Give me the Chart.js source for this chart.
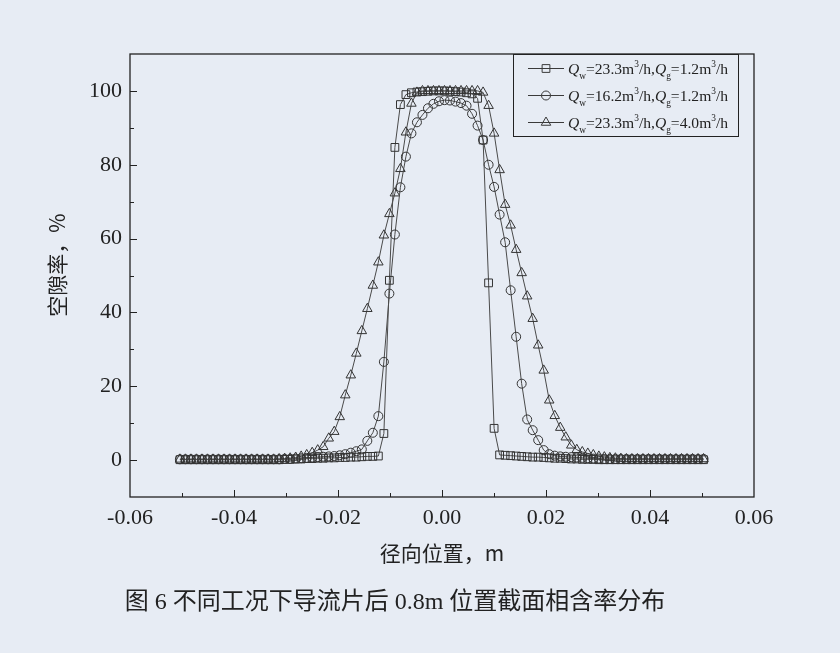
<!DOCTYPE html>
<html lang="zh-CN">
<head>
<meta charset="UTF-8">
<title>截面相含率分布</title>
<script src="https://cdn.jsdelivr.net/npm/chart.js@4"></script>
<style>
  html, body { margin: 0; padding: 0; background: #e7ecf4; }
  #wrap { width: 840px; height: 653px; }
</style>
</head>
<body>
<div id="wrap"><canvas id="voidChart" width="840" height="653"></canvas></div>
<script>
// radial position of each sampling point, m
const radialPos = [
  -0.0504, -0.04934, -0.04828, -0.04722, -0.04616, -0.0451, -0.04404, -0.04298, -0.04192, -0.04086, -0.0398, -0.03874,
  -0.03768, -0.03662, -0.03556, -0.0345, -0.03344, -0.03238, -0.03132, -0.03026, -0.0292, -0.02814, -0.02708, -0.02602,
  -0.02496, -0.0239, -0.02284, -0.02178, -0.02072, -0.01966, -0.0186, -0.01754, -0.01648, -0.01542, -0.01436, -0.0133,
  -0.01224, -0.01118, -0.01012, -0.00906, -0.008, -0.00694, -0.00588, -0.00482, -0.00376, -0.0027, -0.00164, -0.00058,
  0.00048, 0.00154, 0.0026, 0.00366, 0.00472, 0.00578, 0.00684, 0.0079, 0.00896, 0.01002, 0.01108, 0.01214,
  0.0132, 0.01426, 0.01532, 0.01638, 0.01744, 0.0185, 0.01956, 0.02062, 0.02168, 0.02274, 0.0238, 0.02486,
  0.02592, 0.02698, 0.02804, 0.0291, 0.03016, 0.03122, 0.03228, 0.03334, 0.0344, 0.03546, 0.03652, 0.03758,
  0.03864, 0.0397, 0.04076, 0.04182, 0.04288, 0.04394, 0.045, 0.04606, 0.04712, 0.04818, 0.04924, 0.0503
];

// void fraction, %  (Qw=23.3, Qg=1.2)
const voidSq = [
  0.1, 0.1, 0.1, 0.1, 0.1, 0.1, 0.1, 0.1, 0.1, 0.1, 0.1, 0.1,
  0.1, 0.1, 0.1, 0.1, 0.1, 0.1, 0.1, 0.2, 0.2, 0.3, 0.3, 0.4,
  0.4, 0.5, 0.5, 0.6, 0.6, 0.7, 0.7, 0.8, 0.8, 0.9, 1.0, 1.0,
  1.1, 7.2, 48.7, 84.7, 96.3, 99.0, 99.5, 99.7, 99.8, 99.9, 100, 100,
  100, 99.9, 99.8, 99.7, 99.5, 99.2, 98.0, 86.7, 48.0, 8.6, 1.4, 1.3,
  1.2, 1.1, 1.0, 0.9, 0.8, 0.8, 0.7, 0.6, 0.5, 0.5, 0.4, 0.3,
  0.3, 0.2, 0.2, 0.2, 0.1, 0.1, 0.1, 0.1, 0.1, 0.1, 0.1, 0.1,
  0.1, 0.1, 0.1, 0.1, 0.1, 0.1, 0.1, 0.1, 0.1, 0.1, 0.1, 0.1
];
// Qw=16.2, Qg=1.2
const voidCi = [
  0.2, 0.2, 0.2, 0.2, 0.2, 0.2, 0.2, 0.2, 0.2, 0.2, 0.2, 0.2,
  0.2, 0.2, 0.2, 0.2, 0.2, 0.2, 0.2, 0.3, 0.3, 0.4, 0.5, 0.6,
  0.7, 0.8, 0.9, 1.0, 1.1, 1.3, 1.6, 2.0, 2.4, 2.9, 5.2, 7.4,
  11.9, 26.6, 45.1, 61.1, 73.9, 82.2, 88.5, 91.5, 93.5, 95.3, 96.5, 97.2,
  97.5, 97.4, 97.1, 96.7, 96.0, 93.8, 90.6, 86.7, 80.0, 74.0, 66.5, 59.0,
  46.0, 33.4, 20.7, 11.0, 8.1, 5.4, 2.7, 1.6, 1.2, 1.0, 0.9, 0.8,
  0.7, 0.6, 0.5, 0.4, 0.4, 0.3, 0.3, 0.3, 0.3, 0.3, 0.3, 0.3,
  0.3, 0.3, 0.3, 0.3, 0.3, 0.3, 0.3, 0.3, 0.3, 0.3, 0.3, 0.3
];
// Qw=23.3, Qg=4.0
const voidTr = [
  0.2, 0.2, 0.2, 0.2, 0.2, 0.2, 0.2, 0.2, 0.2, 0.2, 0.2, 0.2,
  0.2, 0.2, 0.2, 0.2, 0.2, 0.2, 0.3, 0.4, 0.5, 0.7, 1.0, 1.4,
  2.0, 2.7, 3.6, 5.9, 7.7, 11.7, 17.6, 23.0, 28.9, 35.0, 41.0, 47.3,
  53.6, 60.9, 66.7, 72.3, 78.9, 88.8, 96.6, 99.6, 100, 100, 100, 100,
  100, 100, 100, 100, 100, 100, 100, 99.6, 96.0, 88.5, 78.6, 69.2,
  63.6, 57.0, 50.7, 44.4, 38.3, 31.1, 24.3, 16.2, 12.0, 8.8, 6.2, 4.0,
  2.8, 2.2, 1.8, 1.4, 1.0, 0.8, 0.6, 0.5, 0.4, 0.3, 0.3, 0.3,
  0.3, 0.3, 0.3, 0.3, 0.3, 0.3, 0.3, 0.3, 0.3, 0.3, 0.3, 0.3
];

const xTicks = [-0.06, -0.05, -0.04, -0.03, -0.02, -0.01, 0, 0.01, 0.02, 0.03, 0.04, 0.05, 0.06];
const xLabels = ['-0.06', '-0.04', '-0.02', '0.00', '0.02', '0.04', '0.06'];
const yTicks = [-10, 0, 10, 20, 30, 40, 50, 60, 70, 80, 90, 100, 110];
const yLabels = ['0', '20', '40', '60', '80', '100'];

// legend text pieces: [text, kind]  kind: '' plain, 'i' italic, 'sub', 'sup'
const legendText = [
  [['Q', 'i'], ['w', 'sub'], ['=23.3m', ''], ['3', 'sup'], ['/h,', ''], ['Q', 'i'], ['g', 'sub'], ['=1.2m', ''], ['3', 'sup'], ['/h', '']],
  [['Q', 'i'], ['w', 'sub'], ['=16.2m', ''], ['3', 'sup'], ['/h,', ''], ['Q', 'i'], ['g', 'sub'], ['=1.2m', ''], ['3', 'sup'], ['/h', '']],
  [['Q', 'i'], ['w', 'sub'], ['=23.3m', ''], ['3', 'sup'], ['/h,', ''], ['Q', 'i'], ['g', 'sub'], ['=4.0m', ''], ['3', 'sup'], ['/h', '']]
];
const seriesNames = ['Qw=23.3m³/h,Qg=1.2m³/h', 'Qw=16.2m³/h,Qg=1.2m³/h', 'Qw=23.3m³/h,Qg=4.0m³/h'];
const xTitle = '径向位置，m';
const yTitle = '空隙率，%';
const caption = '图 6 不同工况下导流片后 0.8m 位置截面相含率分布';

const INK = '#222222';
const SERIF = "'Liberation Serif', 'Times New Roman', serif";
const CJK = "'Noto Sans CJK SC', sans-serif";

function toPoints(vals) {
  return radialPos.map((x, i) => ({ x: x, y: vals[i] }));
}

function drawMarker(ctx, style, x, y, r) {
  ctx.beginPath();
  if (style === 'rect') {
    const s = r * Math.SQRT1_2;
    ctx.rect(x - s, y - s, 2 * s, 2 * s);
  } else if (style === 'circle') {
    ctx.arc(x, y, r, 0, Math.PI * 2);
  } else {
    for (let k = 0; k < 3; k++) {
      const a = k * 2 * Math.PI / 3;
      const px = x + Math.sin(a) * r, py = y - Math.cos(a) * r;
      if (k) ctx.lineTo(px, py); else ctx.moveTo(px, py);
    }
    ctx.closePath();
  }
  ctx.stroke();
}

function drawRich(ctx, parts, x, y, size) {
  parts.forEach(([t, kind]) => {
    let f = size, dy = 0, st = '';
    if (kind === 'i') st = 'italic ';
    if (kind === 'sub') { f = size * 0.6; dy = size * 0.3; }
    if (kind === 'sup') { f = size * 0.6; dy = -size * 0.42; }
    ctx.font = st + f + 'px ' + SERIF;
    ctx.fillText(t, x, y + dy);
    x += ctx.measureText(t).width;
  });
}

const decorPlugin = {
  id: 'decor',
  afterDraw(chart) {
    const { ctx, chartArea: a, scales } = chart;
    const xs = scales.x, ys = scales.y;
    ctx.save();
    ctx.strokeStyle = INK;
    ctx.fillStyle = INK;

    // frame
    ctx.lineWidth = 1.3;
    ctx.strokeRect(a.left, a.top, a.right - a.left, a.bottom - a.top);

    // inward tick marks on bottom and left axes
    ctx.lineWidth = 1;
    ctx.beginPath();
    xs.ticks.forEach(t => {
      if (t.value <= xs.min || t.value >= xs.max) return;
      const px = Math.round(xs.getPixelForValue(t.value)) + 0.5;
      const len = t.label ? 7 : 4;
      ctx.moveTo(px, a.bottom);
      ctx.lineTo(px, a.bottom - len);
    });
    ys.ticks.forEach(t => {
      if (t.value <= ys.min || t.value >= ys.max) return;
      const py = Math.round(ys.getPixelForValue(t.value)) + 0.5;
      const len = t.label ? 7 : 4;
      ctx.moveTo(a.left, py);
      ctx.lineTo(a.left + len, py);
    });
    ctx.stroke();

    // legend
    const lx = a.right - 241, ly = a.top, lw = 225, lh = 82;
    ctx.lineWidth = 1;
    ctx.strokeRect(lx + 0.5, ly + 0.5, lw, lh);
    const styles = ['rect', 'circle', 'triangle'];
    const radii = [5.5, 4.5, 5.5];
    legendText.forEach((parts, i) => {
      const ry = ly + 14 + i * 27;
      ctx.strokeStyle = '#3a3a3a';
      ctx.beginPath();
      ctx.moveTo(lx + 15, ry + 0.5);
      ctx.lineTo(lx + 51, ry + 0.5);
      ctx.stroke();
      drawMarker(ctx, styles[i], lx + 33, ry + 0.5, radii[i]);
      ctx.textAlign = 'left';
      ctx.textBaseline = 'alphabetic';
      drawRich(ctx, parts, lx + 55, ry + 6, 15.6);
    });

    // axis titles and caption
    ctx.textAlign = 'center';
    ctx.textBaseline = 'middle';
    ctx.font = '21px ' + CJK;
    ctx.fillText(xTitle, (a.left + a.right) / 2, 553);
    ctx.save();
    ctx.translate(57, 265);
    ctx.rotate(-Math.PI / 2);
    ctx.fillText(yTitle, 0, 0);
    ctx.restore();
    ctx.font = '24px ' + SERIF + ', ' + CJK;
    ctx.fillText(caption, 395, 603);
    ctx.restore();
  }
};

function makeSet(label, vals, style, radius) {
  return {
    label: label,
    data: toPoints(vals),
    borderColor: '#4a4a4a',
    borderWidth: 1,
    pointStyle: style,
    pointRadius: radius,
    pointBorderColor: '#333333',
    pointBorderWidth: 1,
    pointBackgroundColor: 'rgba(0,0,0,0)',
    fill: false,
    tension: 0
  };
}

new Chart(document.getElementById('voidChart').getContext('2d'), {
  type: 'line',
  data: {
    datasets: [
      makeSet(seriesNames[0], voidSq, 'rect', 5.5),
      makeSet(seriesNames[1], voidCi, 'circle', 4.5),
      makeSet(seriesNames[2], voidTr, 'triangle', 5.5)
    ]
  },
  options: {
    responsive: false,
    animation: false,
    devicePixelRatio: 1,
    events: [],
    layout: { padding: { top: 54, right: 86, left: 0, bottom: 0 } },
    plugins: { legend: { display: false }, tooltip: { enabled: false } },
    scales: {
      x: {
        type: 'linear',
        min: -0.06,
        max: 0.06,
        afterBuildTicks: s => { s.ticks = xTicks.map(v => ({ value: v })); },
        afterFit: s => { s.height = 156; },
        grid: { display: false, drawTicks: false },
        border: { display: false },
        ticks: {
          autoSkip: false,
          maxRotation: 0,
          padding: 8,
          color: INK,
          font: { family: SERIF, size: 22 },
          callback: v => {
            const s = v.toFixed(2);
            return xLabels.includes(s) ? s : '';
          }
        }
      },
      y: {
        min: -10,
        max: 110,
        afterBuildTicks: s => { s.ticks = yTicks.map(v => ({ value: v })); },
        afterFit: s => { s.width = 130; },
        grid: { display: false, drawTicks: false },
        border: { display: false },
        ticks: {
          autoSkip: false,
          padding: 8,
          color: INK,
          font: { family: SERIF, size: 22 },
          callback: v => yLabels.includes(String(v)) ? String(v) : ''
        }
      }
    }
  },
  plugins: [decorPlugin]
});
</script>
</body>
</html>
